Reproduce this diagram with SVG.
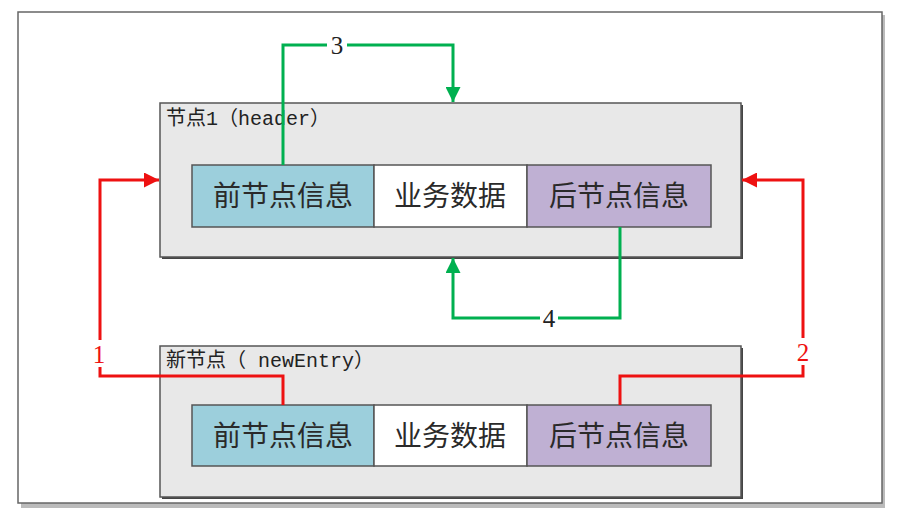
<svg xmlns="http://www.w3.org/2000/svg" width="900" height="519" viewBox="0 0 900 519">
<defs>
<marker id="ag" viewBox="0 0 10 10" refX="10" refY="5" markerWidth="5" markerHeight="5" orient="auto" markerUnits="strokeWidth"><path d="M0,0 L10,5 L0,10 z" fill="#00b050"/></marker>
<marker id="ar" viewBox="0 0 10 10" refX="10" refY="5" markerWidth="5" markerHeight="5" orient="auto" markerUnits="strokeWidth"><path d="M0,0 L10,5 L0,10 z" fill="#ee1111"/></marker>
</defs>
<style>
.box{fill:#e8e8e8;stroke:#555;stroke-width:1.5}
.shadow{fill:#444}
.title{font-family:"Liberation Mono","Noto Sans CJK SC",monospace;font-size:20px;fill:#222}
.cell{stroke:#555;stroke-width:1.5}
.ct{font-family:"Noto Sans CJK SC",sans-serif;font-size:28px;fill:#2a2a2a;text-anchor:middle}
.g{fill:none;stroke:#00b050;stroke-width:3}
.r{fill:none;stroke:#ee1111;stroke-width:3}
.lbl{font-family:"Liberation Serif",serif;font-size:25px;text-anchor:middle}
</style>
<rect x="0" y="0" width="900" height="519" fill="#fff"/>
<rect x="21" y="15" width="864" height="493" fill="#bbb"/>
<rect x="18" y="12" width="864" height="491" fill="#fff" stroke="#666" stroke-width="1.5"/>

<g id="node1">
<rect x="162" y="105" width="581" height="154" class="shadow"/>
<rect x="160" y="103" width="581" height="154" class="box"/>
<text x="166" y="125" class="title">节点1（header）</text>
<rect x="192" y="165" width="182" height="62" class="cell" fill="#9ccfdc"/>
<rect x="374" y="165" width="153" height="62" class="cell" fill="#ffffff"/>
<rect x="527" y="165" width="184" height="62" class="cell" fill="#bfb0d3"/>
<text x="283" y="206" class="ct">前节点信息</text>
<text x="450" y="206" class="ct">业务数据</text>
<text x="619" y="206" class="ct">后节点信息</text>
</g>

<g id="node2">
<rect x="162" y="348" width="581" height="151" class="shadow"/>
<rect x="160" y="346" width="581" height="151" class="box"/>
<text x="166" y="367" class="title">新节点（ newEntry）</text>
<rect x="192" y="405" width="182" height="61" class="cell" fill="#9ccfdc"/>
<rect x="374" y="405" width="153" height="61" class="cell" fill="#ffffff"/>
<rect x="527" y="405" width="184" height="61" class="cell" fill="#bfb0d3"/>
<text x="283" y="446" class="ct">前节点信息</text>
<text x="450" y="446" class="ct">业务数据</text>
<text x="619" y="446" class="ct">后节点信息</text>
</g>

<g id="connectors">
<path d="M283,165 V45 H453 V102" class="g" marker-end="url(#ag)"/>
<rect x="327" y="33" width="20" height="24" fill="#fff"/>
<text x="337" y="54" class="lbl" fill="#222">3</text>

<path d="M620,227 V318 H453 V258" class="g" marker-end="url(#ag)"/>
<rect x="540" y="306" width="18" height="24" fill="#fff"/>
<text x="549" y="327" class="lbl" fill="#222">4</text>

<path d="M283,405 V376 H100 V180 H159" class="r" marker-end="url(#ar)"/>
<rect x="90" y="340" width="20" height="27" fill="#fff"/>
<text x="99" y="363" class="lbl" fill="#ee1111">1</text>

<path d="M620,405 V376 H803 V180 H742" class="r" marker-end="url(#ar)"/>
<rect x="793" y="338" width="20" height="27" fill="#fff"/>
<text x="803" y="361" class="lbl" fill="#ee1111">2</text>
</g>
</svg>
